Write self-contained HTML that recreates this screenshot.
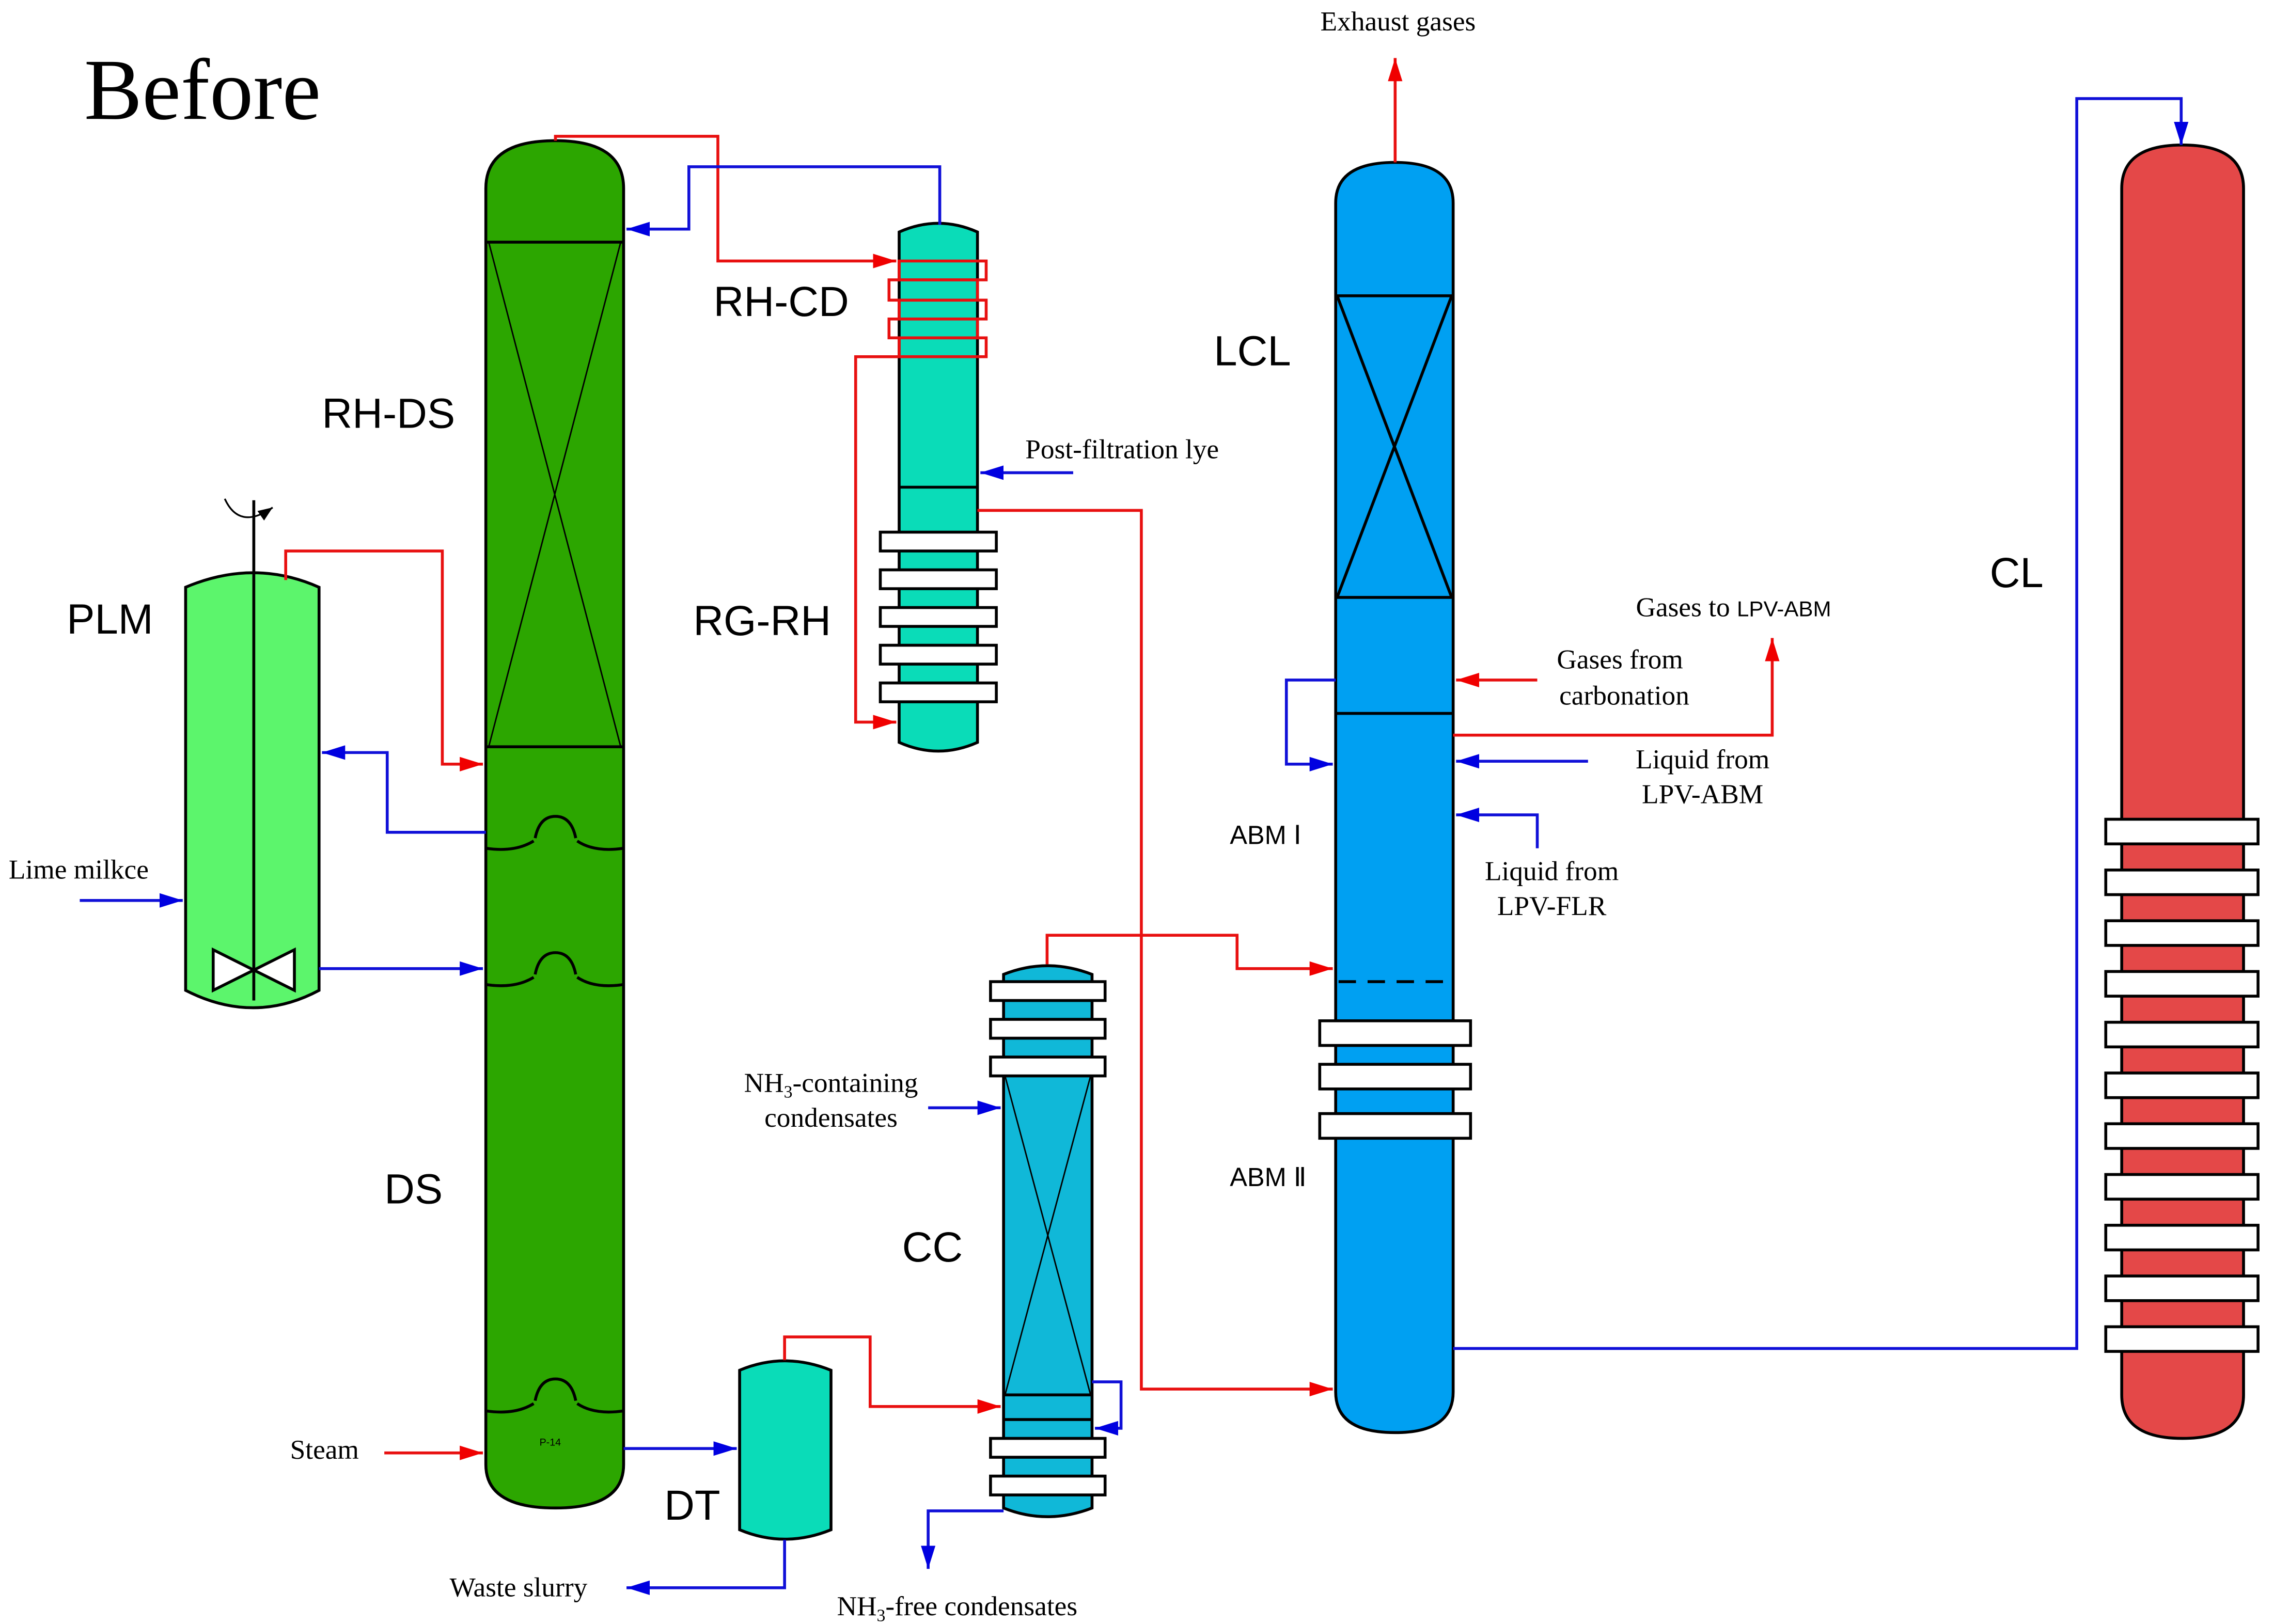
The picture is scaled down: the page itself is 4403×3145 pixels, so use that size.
<!DOCTYPE html>
<html><head><meta charset="utf-8"><style>html,body{margin:0;padding:0;background:#fff}svg{display:block}</style></head>
<body>
<svg width="4403" height="3145" viewBox="0 0 1568 1120" xmlns="http://www.w3.org/2000/svg">
<defs>
<marker id="ar" markerWidth="16" markerHeight="10" refX="16" refY="5" orient="auto" markerUnits="userSpaceOnUse"><path d="M0,0 L16,5 L0,10z" fill="#f00000"/></marker>
<marker id="ab" markerWidth="16" markerHeight="10" refX="16" refY="5" orient="auto" markerUnits="userSpaceOnUse"><path d="M0,0 L16,5 L0,10z" fill="#0000e0"/></marker>
<marker id="ak" markerWidth="10" markerHeight="8" refX="10" refY="4" orient="auto" markerUnits="userSpaceOnUse"><path d="M0,0 L10,4 L0,8z" fill="#000"/></marker>
</defs>
<style>
.r{fill:none;stroke:#e81010;stroke-width:2}
.b{fill:none;stroke:#1010d8;stroke-width:2}
.k{stroke:#000;stroke-width:2}
.t{stroke:#000;stroke-width:1;fill:none}
.w{fill:#fff;stroke:#000;stroke-width:2}
.s{font-family:"Liberation Sans",sans-serif;font-size:29px;fill:#000}
.f{font-family:"Liberation Serif",serif;font-size:19px;fill:#000}
</style>
<text x="58" y="82" font-family="Liberation Serif,serif" font-size="60" fill="#000">Before</text>

<!-- DS column -->
<path d="M335,130 Q335,97 383,97 Q430,97 430,130 L430,1010 Q430,1040 383,1040 Q335,1040 335,1010Z" fill="#2ca600" class="k"/>
<line x1="335" y1="167" x2="430" y2="167" class="k"/>
<line x1="335" y1="515" x2="430" y2="515" class="k"/>
<path d="M337,167 L428,515 M428,167 L337,515" class="t"/>
<g fill="none" stroke="#000" stroke-width="2">
<path d="M335,585 Q355,588 368,580 M398,580 Q410,588 430,585 M369,578 Q372,563 383,563 Q394,563 397,578"/>
<path d="M335,679 Q355,682 368,674 M398,674 Q410,682 430,679 M369,672 Q372,657 383,657 Q394,657 397,672"/>
<path d="M335,973 Q355,976 368,968 M398,968 Q410,976 430,973 M369,966 Q372,951 383,951 Q394,951 397,966"/>
</g>
<text x="372" y="997" font-family="Liberation Sans,sans-serif" font-size="7">P-14</text>

<!-- PLM -->
<path d="M128,405 Q175,385 220,405 L220,683 Q175,707 128,683Z" fill="#5cf56c" class="k"/>
<line x1="175" y1="345" x2="175" y2="690" class="k"/>
<path d="M147,655 L175,669 L147,683Z M203,655 L175,669 L203,683Z" class="w" stroke-width="1.5"/>
<path d="M155,344 Q165,366 188,350" fill="none" stroke="#000" stroke-width="1.2" marker-end="url(#ak)"/>

<!-- RH-CD / RG-RH -->
<path d="M620,160 Q647,148 674,160 L674,512 Q647,524 620,512Z" fill="#0adcb8" class="k"/>
<line x1="620" y1="336" x2="674" y2="336" class="k"/>
<g class="r"><rect x="620" y="180" width="60" height="13"/><rect x="613" y="193" width="61" height="14"/><rect x="620" y="207" width="60" height="13"/><rect x="613" y="220" width="61" height="13"/><rect x="620" y="233" width="60" height="13"/></g>
<g class="w"><rect x="607" y="367" width="80" height="13"/><rect x="607" y="393" width="80" height="13"/><rect x="607" y="419" width="80" height="13"/><rect x="607" y="445" width="80" height="13"/><rect x="607" y="471" width="80" height="13"/></g>

<!-- LCL/ABM -->
<path d="M921,140 Q921,112 962,112 Q1002,112 1002,140 L1002,960 Q1002,988 962,988 Q921,988 921,960Z" fill="#00a0f2" class="k"/>
<line x1="921" y1="204" x2="1002" y2="204" class="k"/>
<line x1="921" y1="412" x2="1002" y2="412" class="k"/>
<path d="M922,204 L1001,412 M1001,204 L922,412" class="k" stroke-width="1.5"/>
<line x1="921" y1="492" x2="1002" y2="492" class="k"/>
<line x1="923" y1="677" x2="1000" y2="677" class="k" stroke-dasharray="12,8"/>
<g class="w"><rect x="910" y="704" width="104" height="17"/><rect x="910" y="734" width="104" height="17"/><rect x="910" y="768" width="104" height="17"/></g>

<!-- CL -->
<path d="M1463,130 Q1463,100 1505,100 Q1547,100 1547,130 L1547,962 Q1547,992 1505,992 Q1463,992 1463,962Z" fill="#e44848" class="k"/>
<g class="w"><rect x="1452" y="565" width="105" height="17"/><rect x="1452" y="600" width="105" height="17"/><rect x="1452" y="635" width="105" height="17"/><rect x="1452" y="670" width="105" height="17"/><rect x="1452" y="705" width="105" height="17"/><rect x="1452" y="740" width="105" height="17"/><rect x="1452" y="775" width="105" height="17"/><rect x="1452" y="810" width="105" height="17"/><rect x="1452" y="845" width="105" height="17"/><rect x="1452" y="880" width="105" height="17"/><rect x="1452" y="915" width="105" height="17"/></g>

<!-- DT -->
<path d="M510,945 Q541,932 573,945 L573,1055 Q541,1068 510,1055Z" fill="#0adcb8" class="k"/>

<!-- CC -->
<path d="M692,672 Q722,660 753,672 L753,1040 Q722,1052 692,1040Z" fill="#10b8d8" class="k"/>
<path d="M693,742 L752,962 M752,742 L693,962" class="t"/>
<line x1="692" y1="962" x2="753" y2="962" class="k"/>
<line x1="692" y1="979" x2="753" y2="979" class="k"/>
<g class="w"><rect x="683" y="677" width="79" height="13"/><rect x="683" y="703" width="79" height="13"/><rect x="683" y="729" width="79" height="13"/><rect x="683" y="992" width="79" height="13"/><rect x="683" y="1018" width="79" height="13"/></g>

<!-- red lines -->
<path d="M383,97 V94 H495 V180 H618" class="r" marker-end="url(#ar)"/>
<path d="M620,246 H590 V498 H618" class="r" marker-end="url(#ar)"/>
<path d="M197,400 V380 H305 V527 H333" class="r" marker-end="url(#ar)"/>
<path d="M674,352 H787 V958 H919" class="r" marker-end="url(#ar)"/>
<path d="M722,665 V645 H853 V668 H919" class="r" marker-end="url(#ar)"/>
<path d="M962,112 V40" class="r" marker-end="url(#ar)"/>
<path d="M1060,469 H1004" class="r" marker-end="url(#ar)"/>
<path d="M1002,507 H1222 V440" class="r" marker-end="url(#ar)"/>
<path d="M265,1002 H333" class="r" marker-end="url(#ar)"/>
<path d="M541,938 V922 H600 V970 H690" class="r" marker-end="url(#ar)"/>

<!-- blue lines -->
<path d="M648,155 V115 H475 V158 H432" class="b" marker-end="url(#ab)"/>
<path d="M740,326 H676" class="b" marker-end="url(#ab)"/>
<path d="M335,574 H267 V519 H222" class="b" marker-end="url(#ab)"/>
<path d="M220,668 H333" class="b" marker-end="url(#ab)"/>
<path d="M55,621 H126" class="b" marker-end="url(#ab)"/>
<path d="M430,999 H508" class="b" marker-end="url(#ab)"/>
<path d="M541,1062 V1095 H432" class="b" marker-end="url(#ab)"/>
<path d="M753,953 H773 V985 H755" class="b" marker-end="url(#ab)"/>
<path d="M640,764 H690" class="b" marker-end="url(#ab)"/>
<path d="M692,1042 H640 V1082" class="b" marker-end="url(#ab)"/>
<path d="M921,469 H887 V527 H919" class="b" marker-end="url(#ab)"/>
<path d="M1095,525 H1004" class="b" marker-end="url(#ab)"/>
<path d="M1060,585 V562 H1004" class="b" marker-end="url(#ab)"/>
<path d="M1002,930 H1432 V68 H1504 V100" class="b" marker-end="url(#ab)"/>

<!-- labels -->
<g class="s">
<text x="222" y="295">RH-DS</text>
<text x="265" y="830">DS</text>
<text x="492" y="218">RH-CD</text>
<text x="478" y="438">RG-RH</text>
<text x="46" y="437">PLM</text>
<text x="622" y="870">CC</text>
<text x="458" y="1048">DT</text>
<text x="837" y="252">LCL</text>
<text x="1372" y="405">CL</text>
</g>
<text x="848" y="582" font-family="Liberation Sans,sans-serif" font-size="18">ABM Ⅰ</text>
<text x="848" y="818" font-family="Liberation Sans,sans-serif" font-size="18">ABM Ⅱ</text>
<g class="f">
<text x="964" y="21" text-anchor="middle">Exhaust gases</text>
<text x="707" y="316">Post-filtration lye</text>
<text x="1128" y="425">Gases to <tspan font-family="Liberation Sans,sans-serif" font-size="15">LPV-ABM</tspan></text>
<text x="1117" y="461" text-anchor="middle">Gases from</text>
<text x="1120" y="486" text-anchor="middle">carbonation</text>
<text x="1174" y="530" text-anchor="middle">Liquid from</text>
<text x="1174" y="554" text-anchor="middle">LPV-ABM</text>
<text x="1070" y="607" text-anchor="middle">Liquid from</text>
<text x="1070" y="631" text-anchor="middle">LPV-FLR</text>
<text x="6" y="606">Lime milkce</text>
<text x="200" y="1006">Steam</text>
<text x="310" y="1101">Waste slurry</text>
<text x="573" y="753" text-anchor="middle">NH<tspan font-size="12" dy="4">3</tspan><tspan dy="-4">-containing</tspan></text>
<text x="573" y="777" text-anchor="middle">condensates</text>
<text x="660" y="1114" text-anchor="middle">NH<tspan font-size="12" dy="4">3</tspan><tspan dy="-4">-free condensates</tspan></text>
</g>
</svg>
</body></html>
